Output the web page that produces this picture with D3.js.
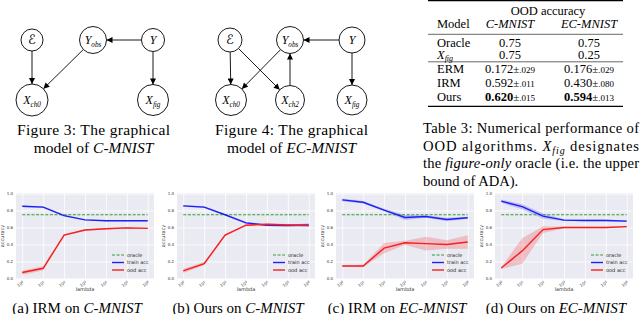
<!DOCTYPE html>
<html>
<head>
<meta charset="utf-8">
<script src="https://cdn.jsdelivr.net/npm/d3@7"></script>
<style>
body{margin:0;background:#fff;}
svg{display:block;}
</style>
</head>
<body>
<svg id="fig" width="640" height="314"></svg>
<script>
// ---- data ----
var lambdaExp=[0,1,2,3,4,5,6];
var yTicks=[0,0.2,0.4,0.6,0.8,1.0];
var oracleAcc=0.75;

// (a) IRM on C-MNIST
var trainA=[0.85,0.84,0.74,0.69,0.68,0.68,0.68];
var trainAErr=[0.01,0.01,0.01,0.006,0.006,0.006,0.006];
var oodA=[0.07,0.12,0.51,0.57,0.585,0.595,0.59];
var oodAErr=[0.025,0.025,0.01,0.008,0.008,0.012,0.008];
// (b) Ours on C-MNIST
var trainB=[0.855,0.84,0.75,0.655,0.627,0.623,0.63];
var trainBErr=[0.01,0.01,0.01,0.01,0.01,0.01,0.02];
var oodB=[0.09,0.175,0.51,0.627,0.638,0.63,0.623];
var oodBErr=[0.025,0.02,0.01,0.01,0.01,0.01,0.01];
// (c) IRM on EC-MNIST
var trainC=[0.925,0.897,0.805,0.718,0.73,0.694,0.714];
var trainCErr=[0.015,0.015,0.015,0.03,0.015,0.02,0.012];
var oodC=[0.147,0.147,0.357,0.42,0.41,0.40,0.43];
var oodCErr=[0.01,0.015,0.06,0.025,0.08,0.05,0.08];
// (d) Ours on EC-MNIST
var trainD=[0.91,0.845,0.734,0.687,0.683,0.683,0.675];
var trainDErr=[0.02,0.03,0.03,0.01,0.01,0.01,0.01];
var oodD=[0.123,0.325,0.575,0.60,0.60,0.60,0.61];
var oodDErr=[0.01,0.15,0.04,0.01,0.01,0.01,0.01];

var panelCaptions=[['(a) IRM on ','C-MNIST'],['(b) Ours on ','C-MNIST'],['(c) IRM on ','EC-MNIST'],['(d) Ours on ','EC-MNIST']];
var legendLabels=['oracle','train acc','ood acc'];

// table 3
var tableModels=[['Oracle'],['X','fig'],['ERM'],['IRM'],['Ours']];
var cMean=['0.75','0.75','0.172','0.592','0.620'];
var cStd=['','','.029','.011','.015'];
var ecMean=['0.75','0.25','0.176','0.430','0.594'];
var ecStd=['','','.029','.080','.013'];

// graphical models
var fig3Nodes=[['E',''],['Y','obs'],['Y',''],['X','ch0'],['X','fig']];
var fig3Edges=[[0,3],[1,3],[2,1],[2,4]];
var fig4Nodes=[['E',''],['Y','obs'],['Y',''],['X','ch0'],['X','ch2'],['X','fig']];
var fig4Edges=[[0,3],[0,4],[1,3],[4,1],[2,1],[2,5]];

// ---- layout ----
var serif="'Liberation Serif','Times New Roman',serif";
var sans="'DejaVu Sans',sans-serif";
var svg=d3.select('#fig');

svg.append('defs').append('marker')
	.attr('id','arrow').attr('markerUnits','userSpaceOnUse')
	.attr('viewBox','0 0 10 10').attr('refX',10).attr('refY',5)
	.attr('markerWidth',7).attr('markerHeight',6).attr('orient','auto')
	.append('path').attr('d','M0,0L10,5L0,10z').attr('fill','#000');

function label(sel,main,sub,size){
	if(main==='E'){
		sel.append('tspan').text('\u2130').style('font-family',"'DejaVu Serif','DejaVu Sans',serif").style('font-size',(size+1)+'px');
		return;
	}
	sel.append('tspan').text(main).style('font-style','italic');
	if(sub) sel.append('tspan').text(sub).attr('dy',2.5).style('font-style','italic').style('font-size',(size*0.6)+'px');
}

function drawGraph(nodes,edges,pos){
	var g=svg.append('g');
	edges.forEach(function(e){
		var a=pos[e[0]],b=pos[e[1]];
		var dx=b[0]-a[0],dy=b[1]-a[1],L=Math.hypot(dx,dy),ux=dx/L,uy=dy/L;
		g.append('line')
			.attr('x1',a[0]+ux*a[2]).attr('y1',a[1]+uy*a[2])
			.attr('x2',b[0]-ux*b[2]).attr('y2',b[1]-uy*b[2])
			.attr('stroke','#000').attr('stroke-width',0.9)
			.attr('marker-end','url(#arrow)');
	});
	nodes.forEach(function(n,i){
		var p=pos[i];
		g.append('circle').attr('cx',p[0]).attr('cy',p[1]).attr('r',p[2])
			.attr('fill','#fff').attr('stroke','#000').attr('stroke-width',0.9);
		var t=g.append('text').attr('x',p[0]).attr('y',p[1]+4)
			.attr('text-anchor','middle').style('font-family',serif).style('font-size','12px');
		label(t,n[0],n[1],12);
	});
}
drawGraph(fig3Nodes,fig3Edges,[[32,40,11],[93,40,13.5],[153,40,11.5],[32,100,16],[153,100,15.5]]);
drawGraph(fig4Nodes,fig4Edges,[[230,40,12],[290,40,13.5],[352,40,13],[231,100,15.5],[290,100,14.5],[352,100,15]]);

function caption(x,y,parts,anchor,len,size){
	var t=svg.append('text').attr('x',x).attr('y',y).attr('text-anchor',anchor)
		.style('font-family',serif).style('font-size',(size||15.5)+'px').attr('fill','#000');
	parts.forEach(function(p){
		var s=t.append('tspan').text(p[0]);
		if(p[1]==='i') s.style('font-style','italic');
		if(p[1]==='sub') s.style('font-style','italic').style('font-size','10px').attr('dy',3);
		if(p[1]==='up') s.attr('dy',-3);
	});
	if(len) t.attr('textLength',len).attr('lengthAdjust','spacing');
	return t;
}
caption(17,135,[['Figure 3: The graphical']],'start',153);
caption(93.5,153,[['model of '],['C-MNIST','i']],'middle');
caption(215,135,[['Figure 4: The graphical']],'start',153);
caption(291.5,153,[['model of '],['EC-MNIST','i']],'middle');

caption(423,133,[['Table 3: Numerical performance of']],'start',216,14.6);
caption(423,150.5,[['OOD algorithms. '],['X','i'],['fig','sub'],[' designates','up']],'start',216,14.6);
caption(423,168,[['the '],['figure-only','i'],[' oracle (i.e. the upper']],'start',216,14.6);
caption(423,185.5,[['bound of ADA).']],'start',null,14.6);

// ---- table ----
var tb=svg.append('g').style('font-family',serif).style('font-size','12.5px');
function rule(y,w){tb.append('line').attr('x1',428).attr('x2',623).attr('y1',y).attr('y2',y).attr('stroke','#000').attr('stroke-width',w);}
rule(0.6,1.3);rule(34.3,0.6);rule(61.8,0.6);rule(106.3,1.3);
tb.append('text').attr('x',548).attr('y',15).attr('text-anchor','middle').text('OOD accuracy');
tb.append('text').attr('x',437).attr('y',27.5).text('Model');
tb.append('text').attr('x',510).attr('y',27.5).attr('text-anchor','middle').style('font-style','italic').text('C-MNIST');
tb.append('text').attr('x',589).attr('y',27.5).attr('text-anchor','middle').style('font-style','italic').text('EC-MNIST');
var rowY=[46.5,58.5,73,86.5,100.5];
function cell(x,y,mean,std,bold){
	var t=tb.append('text').attr('x',x).attr('y',y).attr('text-anchor','middle');
	t.append('tspan').text(mean).style('font-weight',bold?'bold':'normal');
	if(std){
		t.append('tspan').text('\u00b1').style('font-size','11px');
		t.append('tspan').text(std).style('font-size','9px');
	}
}
tableModels.forEach(function(m,i){
	var t=tb.append('text').attr('x',437).attr('y',rowY[i]);
	if(m.length>1){
		t.append('tspan').text(m[0]).style('font-style','italic');
		t.append('tspan').text(m[1]).style('font-style','italic').style('font-size','8px').attr('dy',2);
	} else t.text(m[0]);
	cell(510,rowY[i],cMean[i],cStd[i],i===4);
	cell(589,rowY[i],ecMean[i],ecStd[i],i===4);
});

// ---- line charts ----
var panels=[
	[trainA,trainAErr,oodA,oodAErr],
	[trainB,trainBErr,oodB,oodBErr],
	[trainC,trainCErr,oodC,oodCErr],
	[trainD,trainDErr,oodD,oodDErr]
];
var panelLeft=[16,177,336,495];
var pw=138,plotTop=193,plotBottom=279;
var blue='#1f1ff5',red='#f51f1f',green='#2e9e2e';

panels.forEach(function(pd,k){
	var L=panelLeft[k];
	var x=d3.scaleLinear().domain([-0.3,6.3]).range([L,L+pw]);
	var y=d3.scaleLinear().domain([0,1]).range([plotBottom-0.5,plotTop+0.5]);
	var g=svg.append('g');
	g.append('rect').attr('x',L).attr('y',plotTop).attr('width',pw).attr('height',plotBottom-plotTop).attr('fill','#eaeaf2');

	var xa=g.append('g').attr('transform','translate(0,'+plotBottom+')')
		.call(d3.axisBottom(x).tickValues(lambdaExp).tickSize(-(plotBottom-plotTop)).tickFormat(''));
	var ya=g.append('g').attr('transform','translate('+L+',0)')
		.call(d3.axisLeft(y).tickValues(yTicks).tickSize(-pw).tickFormat(d3.format('.1f')));
	[xa,ya].forEach(function(a){
		a.select('.domain').remove();
		a.selectAll('.tick line').attr('stroke','#fff').attr('stroke-width',0.8);
	});
	ya.selectAll('.tick text').attr('x',-3).style('font-family',sans).style('font-size','4px').attr('fill','#333');

	// x tick labels 10^k
	lambdaExp.forEach(function(e){
		var t=g.append('text').attr('transform','translate('+(x(e)+2)+','+(plotBottom+4.5)+') rotate(-30)')
			.attr('text-anchor','end').style('font-family',sans).style('font-size','4px').attr('fill','#333');
		t.append('tspan').text('10');
		t.append('tspan').text(e).attr('dy',-1.5).style('font-size','3px');
	});
	g.append('text').attr('x',L+pw/2).attr('y',plotBottom+11.5).attr('text-anchor','middle')
		.style('font-family',sans).style('font-size','5px').attr('fill','#333').text('lambda');
	g.append('text').attr('transform','translate('+(L-12)+','+((plotTop+plotBottom)/2)+') rotate(-90)')
		.attr('text-anchor','middle').style('font-family',sans).style('font-size','5px').attr('fill','#333').text('accuracy');

	var area=function(m,err){
		return d3.area().x(function(d,i){return x(lambdaExp[i]);})
			.y0(function(d,i){return y(m[i]-err[i]);})
			.y1(function(d,i){return y(m[i]+err[i]);})(m);
	};
	var line=d3.line().x(function(d,i){return x(lambdaExp[i]);}).y(function(d){return y(d);});

	g.append('path').attr('d',area(pd[0],pd[1])).attr('fill',blue).attr('fill-opacity',0.22);
	g.append('path').attr('d',area(pd[2],pd[3])).attr('fill',red).attr('fill-opacity',0.22);
	g.append('line').attr('x1',x(lambdaExp[0])).attr('x2',x(lambdaExp[lambdaExp.length-1]))
		.attr('y1',y(oracleAcc)).attr('y2',y(oracleAcc))
		.attr('stroke',green).attr('stroke-width',1).attr('stroke-dasharray','3,1.6');
	g.append('path').attr('d',line(pd[0])).attr('fill','none').attr('stroke',blue).attr('stroke-width',1.4);
	g.append('path').attr('d',line(pd[2])).attr('fill','none').attr('stroke',red).attr('stroke-width',1.4);

	// legend
	var cols=[green,blue,red];
	legendLabels.forEach(function(lb,i){
		var ly=plotTop+62+i*7.5;
		g.append('line').attr('x1',L+96).attr('x2',L+108).attr('y1',ly).attr('y2',ly)
			.attr('stroke',cols[i]).attr('stroke-width',i===0?1:1.4)
			.attr('stroke-dasharray',i===0?'3,1.6':null);
		g.append('text').attr('x',L+111).attr('y',ly+1.7).style('font-family',sans).style('font-size','5px')
			.attr('fill','#222').text(lb);
	});

	// caption
	var c=svg.append('text').attr('x',L+pw/2-8).attr('y',313).attr('text-anchor','middle')
		.style('font-family',serif).style('font-size','15px');
	c.append('tspan').text(panelCaptions[k][0]);
	c.append('tspan').text(panelCaptions[k][1]).style('font-style','italic');
});
</script>
</body>
</html>
